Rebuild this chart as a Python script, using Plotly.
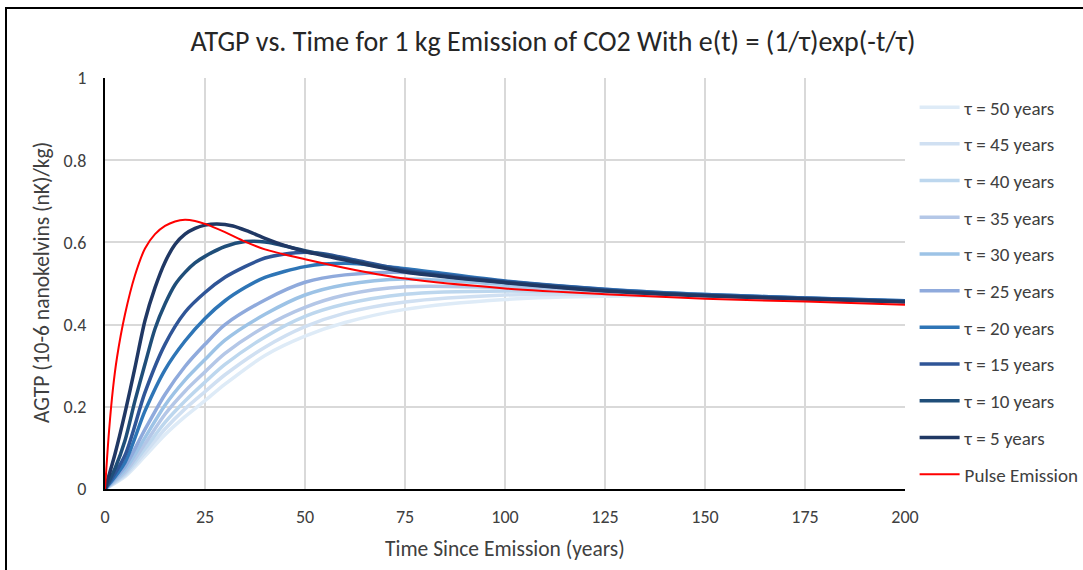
import plotly.graph_objects as go

# ---- series data (years since emission, AGTP in 1e-6 nK/kg) ----
t_pulse = [0, 1, 2, 3, 5, 7.5, 10, 12.5, 15, 17.5, 20, 22.5, 25, 30, 35, 40, 50, 62.5, 75, 100,
           125, 150, 175, 200]
v_pulse = [0, 0.14, 0.245, 0.32, 0.425, 0.52, 0.585, 0.62, 0.64, 0.651, 0.655, 0.652, 0.645, 0.625,
           0.602, 0.583, 0.559, 0.533, 0.512, 0.488, 0.474, 0.463, 0.456, 0.448]

t_tau5 = [0, 2.5, 5, 7.5, 10, 12.5, 15, 17.5, 20, 22.5, 25, 28, 32, 36, 40, 45, 50, 62.5, 75, 100,
          125, 150, 175, 200]
v_tau5 = [0, 0.085, 0.185, 0.296, 0.41, 0.49, 0.552, 0.595, 0.62, 0.634, 0.642, 0.645, 0.640, 0.626,
          0.610, 0.592, 0.578, 0.552, 0.528, 0.502, 0.482, 0.470, 0.462, 0.455]

t_tau10 = [0, 2.5, 5, 7.5, 10, 12.5, 15, 17.5, 20, 22.5, 25, 30, 35, 40, 50, 62.5, 75, 100, 125,
           150, 175, 200]
v_tau10 = [0, 0.05, 0.118, 0.215, 0.304, 0.39, 0.45, 0.497, 0.527, 0.55, 0.566, 0.59, 0.602, 0.601,
           0.58, 0.554, 0.53, 0.503, 0.483, 0.471, 0.463, 0.456]

t_tau15 = [0, 5, 10, 15, 20, 25, 30, 35, 40, 45, 50, 55, 62.5, 75, 100, 125, 150, 175, 200]
v_tau15 = [0, 0.082, 0.235, 0.352, 0.43, 0.478, 0.515, 0.541, 0.562, 0.572, 0.576, 0.572, 0.557,
           0.533, 0.505, 0.485, 0.472, 0.464, 0.457]

t_tau20 = [0, 5, 10, 15, 20, 25, 30, 35, 40, 50, 60, 75, 100, 125, 150, 175, 200]
v_tau20 = [0, 0.065, 0.19, 0.29, 0.36, 0.415, 0.458, 0.49, 0.515, 0.541, 0.549, 0.536, 0.506, 0.486,
           0.473, 0.465, 0.458]

t_slow = [0, 5, 10, 15, 20, 25, 30, 40, 50, 60, 75, 100, 125, 150, 175, 200]
v_tau25 = [0, 0.055, 0.145, 0.23, 0.298, 0.352, 0.40, 0.46, 0.503, 0.521, 0.527, 0.504, 0.486, 0.473, 0.465, 0.458]
v_tau30 = [0, 0.047, 0.125, 0.204, 0.265, 0.315, 0.362, 0.425, 0.472, 0.497, 0.511, 0.498, 0.484, 0.473, 0.465, 0.457]
v_tau35 = [0, 0.041, 0.11, 0.182, 0.238, 0.285, 0.33, 0.395, 0.442, 0.472, 0.492, 0.490, 0.481, 0.472, 0.464, 0.457]
v_tau40 = [0, 0.037, 0.098, 0.162, 0.214, 0.26, 0.303, 0.37, 0.42, 0.45, 0.474, 0.482, 0.478, 0.471, 0.464, 0.457]
v_tau45 = [0, 0.033, 0.088, 0.146, 0.195, 0.237, 0.278, 0.345, 0.395, 0.428, 0.455, 0.472, 0.474, 0.470, 0.463, 0.456]
v_tau50 = [0, 0.03, 0.08, 0.132, 0.176, 0.215, 0.255, 0.325, 0.372, 0.405, 0.437, 0.461, 0.469, 0.468, 0.462, 0.456]

x_ticks = [0, 25, 50, 75, 100, 125, 150, 175, 200]
y_ticks = [0, 0.2, 0.4, 0.6, 0.8, 1]
y_tick_text = ["0", "0.2", "0.4", "0.6", "0.8", "1"]

# drawing order: slowest release first, pulse on top
series = [
    ("τ = 50 years", t_slow, v_tau50, "#DEEBF7", 3.5),
    ("τ = 45 years", t_slow, v_tau45, "#D0E0F2", 3.5),
    ("τ = 40 years", t_slow, v_tau40, "#BDD7EE", 3.5),
    ("τ = 35 years", t_slow, v_tau35, "#B4C7E7", 3.5),
    ("τ = 30 years", t_slow, v_tau30, "#9DC3E6", 3.5),
    ("τ = 25 years", t_slow, v_tau25, "#8FAADC", 3.5),
    ("τ = 20 years", t_tau20, v_tau20, "#2E75B6", 3.5),
    ("τ = 15 years", t_tau15, v_tau15, "#2F5597", 3.5),
    ("τ = 10 years", t_tau10, v_tau10, "#1F4E79", 3.5),
    ("τ = 5 years", t_tau5, v_tau5, "#203864", 3.5),
    ("Pulse Emission", t_pulse, v_pulse, "#FF0000", 2),
]

FONT = "Carlito, Lato, Open Sans, sans-serif"
TEXT = "#404040"

fig = go.Figure()
for name, t, v, color, width in series:
    fig.add_trace(go.Scatter(
        x=t, y=v, name=name, mode="lines", legendgroup=name,
        line=dict(color=color, width=width, shape="spline", smoothing=0.8),
        hoverinfo="x+y+name",
    ))

fig.update_layout(
    width=1083, height=570,
    margin=dict(l=105, r=178, t=78, b=81, autoexpand=False),
    paper_bgcolor="white", plot_bgcolor="white",
    font=dict(family=FONT, size=18, color=TEXT),
    title=dict(text="ATGP vs. Time for 1 kg Emission of CO2 With e(t) = (1/τ)exp(-t/τ)",
               xref="paper", x=0.56, xanchor="center", y=1 - 41 / 570, yanchor="middle",
               font=dict(family=FONT, size=28, color="#262626")),
    legend=dict(x=1.012, xanchor="left", y=0.975, yanchor="top",
                font=dict(family=FONT, size=19, color=TEXT),
                tracegroupgap=9, bgcolor="rgba(0,0,0,0)", itemwidth=40, maxheight=520),
    showlegend=True,
)

fig.update_xaxes(
    range=[0, 200], tickvals=x_ticks, showgrid=True, gridcolor="#D9D9D9", gridwidth=2,
    showline=True, linecolor="#000000", linewidth=2, zeroline=False,
    ticks="", ticklabelstandoff=10, tickfont=dict(size=18, color=TEXT),
)
fig.update_yaxes(
    range=[0, 1], tickvals=y_ticks, ticktext=y_tick_text, showgrid=True,
    gridcolor="#D9D9D9", gridwidth=2,
    showline=True, linecolor="#000000", linewidth=2, zeroline=False,
    ticks="", ticklabelstandoff=13, tickfont=dict(size=18, color=TEXT),
)

# axis titles
fig.add_annotation(text="Time Since Emission (years)", xref="paper", yref="paper",
                   x=0.5, y=(489 - 549) / 411, xanchor="center", yanchor="middle",
                   showarrow=False, font=dict(size=21.5, color=TEXT))
fig.add_annotation(text="AGTP (10-6 nanokelvins (nK)/kg)", xref="paper", yref="paper",
                   x=(42 - 105) / 800, y=(489 - 283) / 411, xanchor="center", yanchor="middle",
                   textangle=-90, showarrow=False, font=dict(size=21.5, color=TEXT))

# outer chart frame
fig.add_shape(type="rect", xref="paper", yref="paper",
              x0=(6 - 105) / 800, x1=(1090 - 105) / 800,
              y0=(489 - 580) / 411, y1=(489 - 8) / 411,
              line=dict(color="#000000", width=2), fillcolor="rgba(0,0,0,0)", layer="above")

fig.write_html("out.html")
